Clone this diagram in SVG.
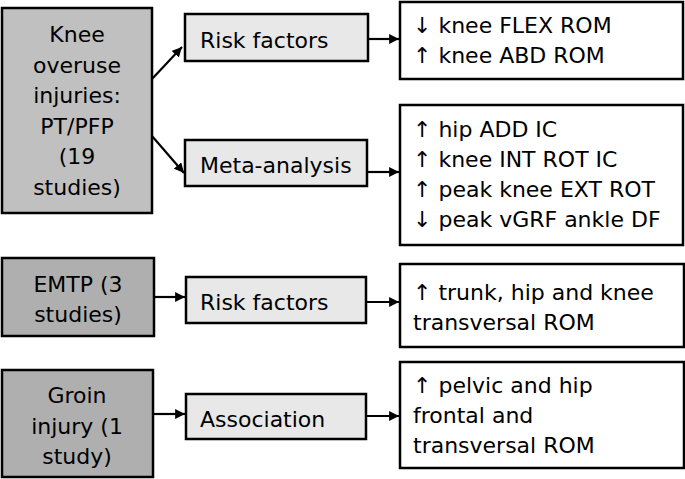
<svg xmlns="http://www.w3.org/2000/svg" width="685" height="479" viewBox="0 0 685 479">
<style>
text{font-family:"DejaVu Sans",Verdana,sans-serif;font-size:22px;fill:#000}
.src{fill:#c0c0c0;stroke:#000;stroke-width:2.5}
.src2{fill:#afafaf;stroke:#000;stroke-width:2.5}
.mid{fill:#e8e8e8;stroke:#000;stroke-width:2.5}
.res{fill:#fff;stroke:#000;stroke-width:2.5}
.c{text-anchor:middle}
.ln{stroke:#000;stroke-width:2.2;fill:none}
</style>
<defs>
<marker id="ah" viewBox="0 0 10 10" refX="10" refY="5" markerWidth="4.5" markerHeight="4.5" orient="auto" markerUnits="strokeWidth">
<path d="M0,0 L10,5 L0,10 z" fill="#000"/>
</marker>
</defs>
<rect width="685" height="479" fill="#fff"/>
<g id="n-knee"><rect class="src" x="2" y="8" width="150" height="205"/>
<text class="c" x="77" y="42">Knee</text><text class="c" x="77" y="72.6">overuse</text><text class="c" x="77" y="103.2">injuries:</text><text class="c" x="77" y="133.8">PT/PFP</text><text class="c" x="77" y="164.4">(19</text><text class="c" x="77" y="195">studies)</text></g>
<g id="n-risk1"><rect class="mid" x="185" y="14" width="183" height="47"/><text x="200" y="48">Risk factors</text></g>
<g id="n-meta"><rect class="mid" x="185" y="140" width="182" height="46"/><text x="200" y="173">Meta-analysis</text></g>
<g id="n-res1"><rect class="res" x="400" y="2" width="283" height="77"/><text x="413" y="33">↓ knee FLEX ROM</text><text x="413" y="63">↑ knee ABD ROM</text></g>
<g id="n-res2"><rect class="res" x="400" y="105" width="283" height="140"/><text x="413" y="137">↑ hip ADD IC</text><text x="413" y="167">↑ knee INT ROT IC</text><text x="413" y="197">↑ peak knee EXT ROT</text><text x="413" y="227">↓ peak vGRF ankle DF</text></g>
<g id="n-emtp"><rect class="src2" x="2" y="258" width="152" height="78"/><text class="c" x="78" y="292">EMTP (3</text><text class="c" x="78" y="322">studies)</text></g>
<g id="n-risk2"><rect class="mid" x="186" y="277" width="180" height="46"/><text x="200" y="310">Risk factors</text></g>
<g id="n-res3"><rect class="res" x="400" y="264" width="284" height="83"/><text x="413" y="300">↑ trunk, hip and knee</text><text x="413" y="330">transversal ROM</text></g>
<g id="n-groin"><rect class="src2" x="2" y="370" width="151" height="107"/><text class="c" x="77" y="403">Groin</text><text class="c" x="77" y="434">injury (1</text><text class="c" x="77" y="464">study)</text></g>
<g id="n-assoc"><rect class="mid" x="186" y="394" width="180" height="45"/><text x="200" y="427">Association</text></g>
<g id="n-res4"><rect class="res" x="400" y="362" width="284" height="106"/><text x="413" y="393">↑ pelvic and hip</text><text x="413" y="423">frontal and</text><text x="413" y="453">transversal ROM</text></g>
<g id="connectors">
<line class="ln" x1="152" y1="79" x2="182" y2="47" marker-end="url(#ah)"/>
<line class="ln" x1="152" y1="136" x2="184" y2="173" marker-end="url(#ah)"/>
<line class="ln" x1="368" y1="39" x2="399" y2="39" marker-end="url(#ah)"/>
<line class="ln" x1="367" y1="172" x2="399" y2="172" marker-end="url(#ah)"/>
<line class="ln" x1="154" y1="297" x2="185" y2="297" marker-end="url(#ah)"/>
<line class="ln" x1="366" y1="302" x2="399" y2="302" marker-end="url(#ah)"/>
<line class="ln" x1="153" y1="414" x2="185" y2="414" marker-end="url(#ah)"/>
<line class="ln" x1="366" y1="416" x2="399" y2="416" marker-end="url(#ah)"/>
</g>
</svg>
